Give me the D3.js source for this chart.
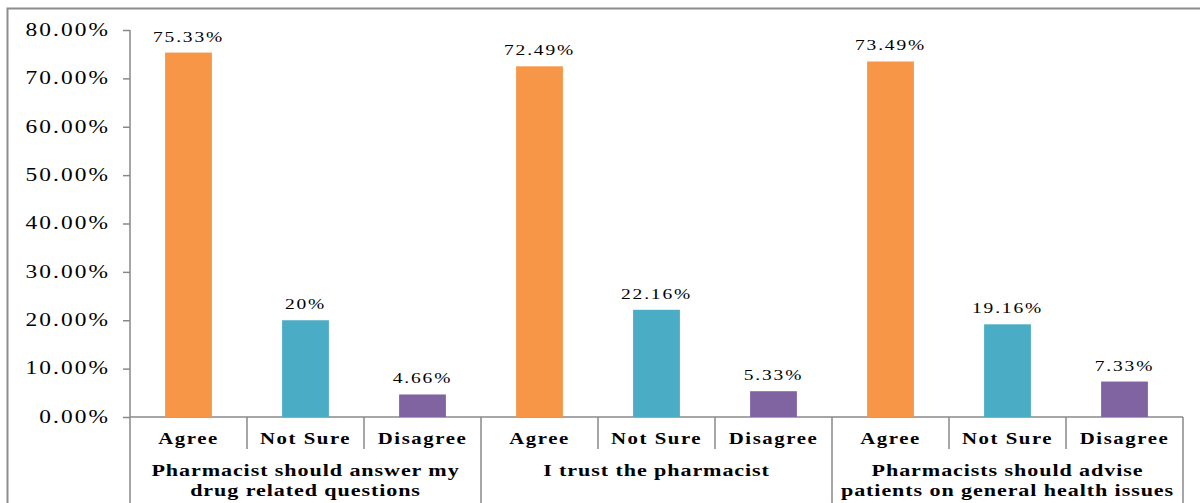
<!DOCTYPE html>
<html>
<head>
<meta charset="utf-8">
<script src="https://cdn.jsdelivr.net/npm/d3@7"></script>
<style>
  html, body { margin: 0; padding: 0; background: #fff; }
  svg { display: block; }
  svg text { font-family: "Liberation Serif", "Times New Roman", "DejaVu Serif", serif; fill: #000; }
</style>
</head>
<body>
<svg id="chart" width="1200" height="503"></svg>
<script>
// Survey statements (groups) and the responses within each
const groups = [
  ["Pharmacist should answer my", "drug related questions"],
  ["I trust the pharmacist"],
  ["Pharmacists should advise", "patients on general health issues"]
];
const responses = ["Agree", "Not Sure", "Disagree"];

// Share of respondents per response, one array per statement
const answerQuestions = [75.33, 20, 4.66];
const trustPharmacist = [72.49, 22.16, 5.33];
const adviseHealth = [73.49, 19.16, 7.33];
const seriesValues = [answerQuestions, trustPharmacist, adviseHealth];

// Printed value labels
const valueLabels = [
  ["75.33%", "20%", "4.66%"],
  ["72.49%", "22.16%", "5.33%"],
  ["73.49%", "19.16%", "7.33%"]
];

const yTicks = [0, 10, 20, 30, 40, 50, 60, 70, 80];
const yTickLabels = ["0.00%", "10.00%", "20.00%", "30.00%", "40.00%", "50.00%", "60.00%", "70.00%", "80.00%"];

const colors = { "Agree": "#F79646", "Not Sure": "#4BACC6", "Disagree": "#8064A2" };
const axisGray = "#888888";
const serif = '"Liberation Serif", "Times New Roman", "DejaVu Serif", serif';
const SX = 1.3; // wide lettering used throughout the chart

const svg = d3.select("#chart");

// Chart frame
svg.append("rect")
  .attr("x", 7.5).attr("y", 8.5)
  .attr("width", 1220).attr("height", 520)
  .attr("fill", "none").attr("stroke", "#8c8c8c").attr("stroke-width", 2);

const plot = { left: 130, right: 1183, top: 30, bottom: 417 };

// Flatten to one row per bar
const rows = [];
seriesValues.forEach((vals, g) => {
  vals.forEach((v, r) => {
    rows.push({ g, r, key: g + "-" + r, response: responses[r], value: v, label: valueLabels[g][r] });
  });
});

const x = d3.scaleBand()
  .domain(rows.map(d => d.key))
  .range([plot.left, plot.right])
  .paddingInner(0.6)
  .paddingOuter(0.3);

const y = d3.scaleLinear()
  .domain([0, 80])
  .range([plot.bottom, plot.top]);

const step = x.step();

// Horizontally widened text label
function wideText(parent, px, py, str, opts) {
  const g = parent.append("g").attr("transform", `translate(${px},${py}) scale(${SX},1)`);
  const t = g.append("text")
    .attr("x", 0).attr("y", 0)
    .attr("text-anchor", opts.anchor || "middle")
    .style("font-family", serif)
    .style("font-size", opts.size + "px")
    .style("font-weight", opts.weight || "normal")
    .style("letter-spacing", (opts.ls || 0) + "px")
    .text(str);
  if (opts.dy) t.attr("dy", opts.dy);
  return t;
}

// Y axis ticks
const yAxis = d3.axisLeft(y)
  .tickValues(yTicks)
  .tickFormat("")
  .tickSize(7);

const yg = svg.append("g")
  .attr("transform", `translate(${plot.left},0)`)
  .call(yAxis);
yg.select(".domain").remove();
yg.selectAll(".tick line").attr("stroke", axisGray).attr("stroke-width", 1.5);

// Y tick labels
const tickLayer = svg.append("g");
yTicks.forEach((v, i) => {
  wideText(tickLayer, 110, y(v), yTickLabels[i], { size: 18, ls: 1.6, anchor: "end", dy: "0.32em" });
});

// Vertical axis line, running down through the label area
svg.append("line")
  .attr("x1", plot.left).attr("x2", plot.left)
  .attr("y1", plot.top).attr("y2", 503)
  .attr("stroke", axisGray).attr("stroke-width", 1.5);

// Baseline
svg.append("line")
  .attr("x1", plot.left).attr("x2", plot.right)
  .attr("y1", y(0)).attr("y2", y(0))
  .attr("stroke", axisGray).attr("stroke-width", 1.5);

// Bars
svg.append("g").selectAll("rect")
  .data(rows)
  .join("rect")
  .attr("x", d => x(d.key))
  .attr("y", d => y(d.value))
  .attr("width", x.bandwidth())
  .attr("height", d => y(0) - y(d.value))
  .attr("fill", d => colors[d.response]);

// Value labels
const valueLayer = svg.append("g");
rows.forEach(d => {
  wideText(valueLayer, x(d.key) + x.bandwidth() / 2, y(d.value) - 11, d.label, { size: 15, ls: 1.4 });
});

// Category separators (short) and group separators (long)
const boundaries = d3.range(rows.length + 1).map(i => plot.left + i * step);
svg.append("g").selectAll("line")
  .data(boundaries.slice(1))
  .join("line")
  .attr("x1", d => d).attr("x2", d => d)
  .attr("y1", y(0))
  .attr("y2", (d, i) => ((i + 1) % 3 === 0) ? 503 : 449)
  .attr("stroke", axisGray).attr("stroke-width", 1.5);

// Response labels
const respLayer = svg.append("g");
rows.forEach(d => {
  wideText(respLayer, x(d.key) + x.bandwidth() / 2, 444, d.response, { size: 16, weight: "bold", ls: 1.2 });
});

// Statement labels
const groupLayer = svg.append("g");
groups.forEach((lines, g) => {
  const cx = plot.left + (g * 3 + 1.5) * step;
  lines.forEach((line, li) => {
    wideText(groupLayer, cx, 476 + li * 20, line, { size: 17, weight: "bold", ls: 0.7 });
  });
});
</script>
</body>
</html>
